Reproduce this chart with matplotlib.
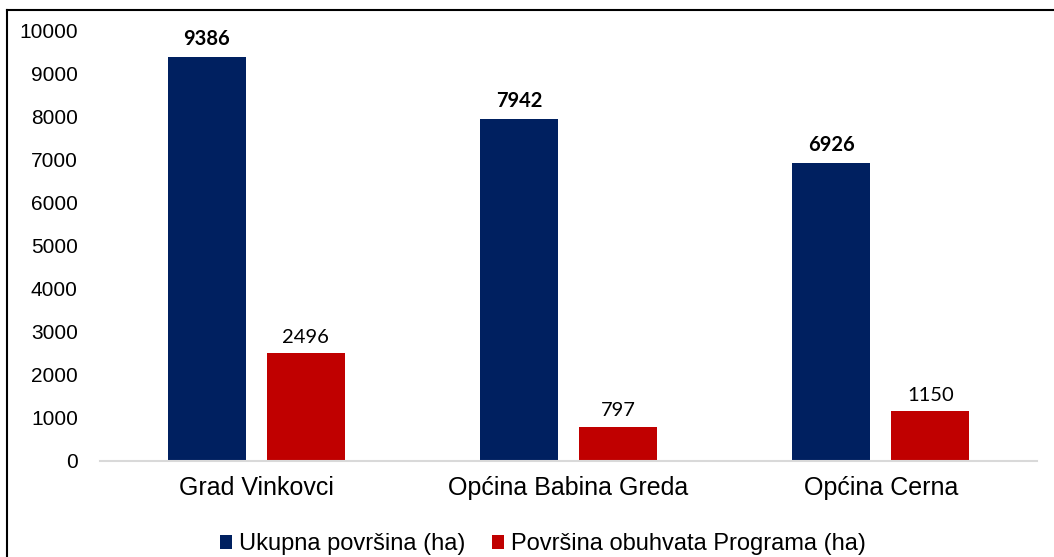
import matplotlib.pyplot as plt
from matplotlib.lines import Line2D
import numpy as np

# data
categories = ['Grad Vinkovci', 'Općina Babina Greda', 'Općina Cerna']
ukupna = [9386, 7942, 6926]
obuhvat = [2496, 797, 1150]
series_labels = ['Ukupna površina (ha)', 'Površina obuhvata Programa (ha)']

BLUE = '#002060'
RED = '#C00000'

plt.rcParams['font.family'] = ['Liberation Sans', 'DejaVu Sans']

fig = plt.figure(figsize=(10.54, 5.57), dpi=100)
ax = fig.add_axes([100 / 1054, 0.1724, 937 / 1054, 0.7736])

x = np.arange(len(categories))
w = 0.25
off = 0.1585
b1 = ax.bar(x - off, ukupna, width=w, color=BLUE, label=series_labels[0])
b2 = ax.bar(x + off, obuhvat, width=w, color=RED, label=series_labels[1])

for rect, v in zip(b1, ukupna):
    ax.annotate(f'{v}', (rect.get_x() + rect.get_width() / 2, v),
                xytext=(0, 5.5), textcoords='offset points', ha='center', va='bottom',
                fontsize=14.5, fontweight='bold', family=['Lato', 'DejaVu Sans'])
for rect, v in zip(b2, obuhvat):
    ax.annotate(f'{v}', (rect.get_x() + rect.get_width() / 2, v),
                xytext=(0, 5.5), textcoords='offset points', ha='center', va='bottom',
                fontsize=14.5, family=['Lato', 'DejaVu Sans'])

ax.set_xlim(-0.5, 2.5)
ax.set_ylim(0, 10000)
ax.set_yticks(np.arange(0, 10001, 1000))
ax.set_xticks(x)
ax.set_xticklabels(categories, fontsize=18)
ax.tick_params(axis='y', labelsize=15, length=0, pad=16)
ax.tick_params(axis='x', length=0, pad=11)
for s in ['top', 'right', 'left']:
    ax.spines[s].set_visible(False)
ax.spines['bottom'].set_color('#d9d9d9')
ax.spines['bottom'].set_linewidth(1.5)

fig.legend(handles=[b1, b2], labels=series_labels, loc='center',
           bbox_to_anchor=(0.515, 0.023), ncol=2, frameon=False, fontsize=17,
           handlelength=0.5, handleheight=0.5, handletextpad=0.3, columnspacing=1.15,
           borderpad=0, borderaxespad=0)

# outer frame (top and left edges visible in the crop)
fig.add_artist(Line2D([7 / 1054, 1.0], [1 - 10 / 557] * 2, color='black', lw=1.5,
                      transform=fig.transFigure))
fig.add_artist(Line2D([7 / 1054] * 2, [1 - 10 / 557, 0], color='black', lw=1.5,
                      transform=fig.transFigure))

fig.savefig('out.png', dpi=100)
